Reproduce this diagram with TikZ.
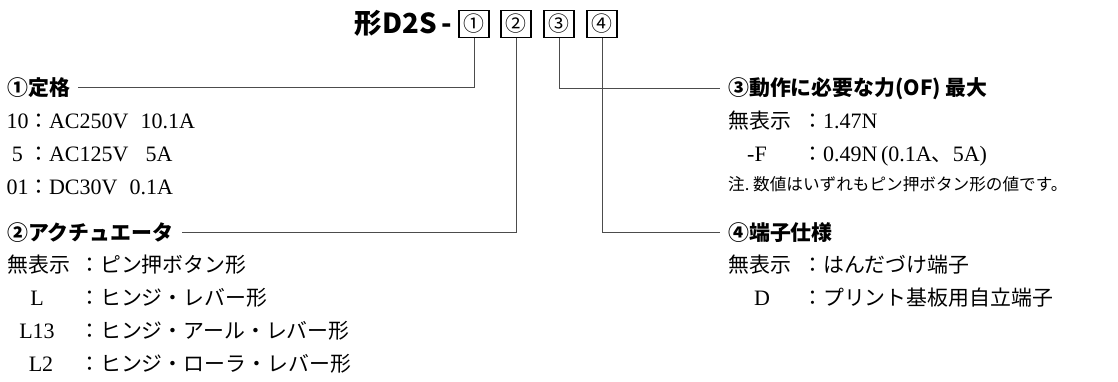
\documentclass[tikz,border=0pt]{standalone}
\usepackage{fontspec}
\setmainfont{Liberation Serif}
\newfontfamily\jp{Noto Sans CJK JP}[Scale=0.95]
\newcommand{\jc}{{\jp ：}}
\tikzset{
  head/.style={anchor=base west,inner xsep=8pt,inner ysep=0pt,font=\jp\bfseries\fontsize{22}{22}\selectfont},
  txt/.style={anchor=base west,inner sep=0pt,font=\fontsize{22}{22}\selectfont},
  key/.style={anchor=base,inner sep=0pt,font=\fontsize{22}{22}\selectfont},
  digit/.style={draw,line width=1.1pt,minimum width=30pt,minimum height=27pt,inner sep=0pt,font=\jp\fontsize{22}{22}\selectfont},
  lead/.style={black!70,line width=0.8pt}
}
\begin{document}
\begin{tikzpicture}[x=1pt,y=-1pt]
\useasboundingbox (0,0) rectangle (1118,381);
%
\node[anchor=base east,inner sep=0pt,font=\jp\bfseries\fontsize{29}{29}\selectfont](model) at (452,33) {形D2S\,-};
\node[digit](b1) at (474,24) {①};
\node[digit](b2) at (516,24) {②};
\node[digit](b3) at (559,24) {③};
\node[digit](b4) at (602,24) {④};
%
\node[head](rate) at (-1,95) {①定格};
\draw[lead](b1) |- (rate) {};
\node[key](r10) at (17.5,128) {10};
\node[txt](r10v) at (28,128) {\jc AC250V\hspace{12pt}10.1A};
\node[key](r5) at (17.5,161) {5};
\node[txt](r5v) at (28,161) {\jc AC125V\hspace{17pt}5A};
\node[key](r01) at (17.5,194) {01};
\node[txt](r01v) at (28,194) {\jc DC30V\hspace{12pt}0.1A};
%
\node[head](act) at (-1,240) {②アクチュエータ};
\draw[lead](b2) |- (act) {};
\node[txt](a0) at (7,272) {\jp 無表示};
\node[txt](a0v) at (79,272) {\jp ：ピン押ボタン形};
\node[key](a1) at (37,305) {L};
\node[txt](a1v) at (79,305) {\jp ：ヒンジ・レバー形};
\node[key](a2) at (37,338) {L13};
\node[txt](a2v) at (79,338) {\jp ：ヒンジ・アール・レバー形};
\node[key](a3) at (41,371) {L2};
\node[txt](a3v) at (79,371) {\jp ：ヒンジ・ローラ・レバー形};
%
\node[head](force) at (720,95) {③動作に必要な力(OF)\hspace{4pt}最大};
\draw[lead](b3) |- (force) {};
\node[txt](f0) at (728,128) {\jp 無表示};
\node[txt](f0v) at (802,128) {\jc 1.47N};
\node[key](f1) at (757,161) {-F};
\node[txt](f1v) at (802,161) {\jc 0.49N\,(0.1A{\jp 、}5A)};
\node[txt,font=\jp\fontsize{17.5}{17.5}\selectfont](note) at (728,190) {注.\ 数値はいずれもピン押ボタン形の値です。};
%
\node[head](term) at (720,240) {④端子仕様};
\draw[lead](b4) |- (term) {};
\node[txt](t0) at (728,272) {\jp 無表示};
\node[txt](t0v) at (802,272) {\jp ：はんだづけ端子};
\node[key](t1) at (762,305) {D};
\node[txt](t1v) at (802,305) {\jp ：プリント基板用自立端子};
\end{tikzpicture}
\end{document}
